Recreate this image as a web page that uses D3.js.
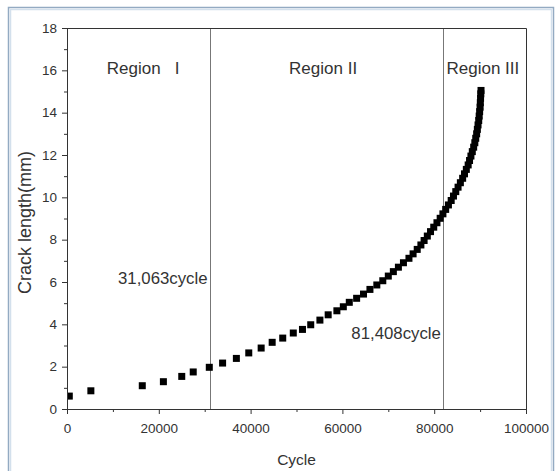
<!DOCTYPE html>
<html>
<head>
<meta charset="utf-8">
<script src="https://cdn.jsdelivr.net/npm/d3@7"></script>
<style>
  body { margin: 0; background: #fff; }
  svg { display: block; font-family: "Liberation Sans", Arial, sans-serif; }
</style>
</head>
<body>
<svg id="chart" width="559" height="471"></svg>
<script>
// crack length measurements (cycle, mm)
var cycles = [
    500, 5200, 16400, 21000, 25000, 27500, 31000, 33900, 36900, 39600,
    42300, 44700, 47000, 49300, 51300, 53100, 55100, 56900, 58800, 60200,
    61500, 63100, 64600, 66000, 67500, 68800, 70000, 71100, 72200, 73300,
    74500, 75400, 76300, 77100, 77800, 78500, 79200, 79900, 80600, 81300,
    81900, 82500, 83100, 83700, 84200, 84700, 85200, 85700, 86200, 86600,
    87000, 87400, 87700, 88000, 88300, 88600, 88850, 89050, 89250, 89400,
    89550, 89700, 89800, 89900, 90000, 90050, 90100, 90150, 90200
];
var crackLength = [
    0.61, 0.86, 1.10, 1.29, 1.54, 1.75, 1.97, 2.17, 2.39, 2.65,
    2.88, 3.15, 3.35, 3.59, 3.76, 3.98, 4.20, 4.45, 4.64, 4.83,
    5.04, 5.23, 5.43, 5.65, 5.86, 6.06, 6.28, 6.49, 6.70, 6.91,
    7.12, 7.33, 7.54, 7.75, 7.96, 8.17, 8.38, 8.59, 8.80, 9.01,
    9.22, 9.43, 9.64, 9.85, 10.06, 10.27, 10.48, 10.69, 10.90, 11.11,
    11.32, 11.53, 11.74, 11.95, 12.16, 12.37, 12.58, 12.79, 13.00, 13.21,
    13.42, 13.63, 13.84, 14.05, 14.26, 14.47, 14.68, 14.89, 15.05
];

var xTicks = [0, 20000, 40000, 60000, 80000, 100000];
var xMinorTicks = [10000, 30000, 50000, 70000, 90000];
var yTicks = [0, 2, 4, 6, 8, 10, 12, 14, 16, 18];
var yMinorTicks = [1, 3, 5, 7, 9, 11, 13, 15, 17];

// region boundaries (line position) and their labels
var boundaries = [31063, 81900];
var boundaryLabels = ['31,063cycle', '81,408cycle'];
var boundaryLabelY = [5.9, 3.3];

var regionNames = ['Region   I', 'Region II', 'Region III'];
var regionCenters = [16600, 55800, 90600];

var data = cycles.map((c, i) => ({ x: c, y: crackLength[i] }));

var svg = d3.select('#chart');
var margin = { top: 28, right: 33, bottom: 62, left: 67 }
    , width = 559 - margin.left - margin.right
    , height = 471 - margin.top - margin.bottom;

// outer frame
svg.append('rect')
    .attr('x', 8.5).attr('y', 7.5)
    .attr('width', 545).attr('height', 480)
    .attr('fill', '#fff')
    .attr('stroke', '#93aac2')
    .attr('stroke-width', 1.5);
svg.append('rect')
    .attr('x', 10.5).attr('y', 9.5)
    .attr('width', 541).attr('height', 476)
    .attr('fill', 'none')
    .attr('stroke', '#d3e0ec')
    .attr('stroke-width', 1.5);

var xScale = d3.scaleLinear().domain([0, 100000]).range([0, width]);
var yScale = d3.scaleLinear().domain([0, 18]).range([height, 0]);

var g = svg.append('g')
    .attr('transform', `translate(${margin.left},${margin.top})`);

svg.append('defs').append('clipPath').attr('id', 'plotclip')
    .append('rect').attr('width', width).attr('height', height);

// region boundary lines
g.selectAll('.boundary')
    .data(boundaries)
    .enter().append('line')
    .attr('x1', d => Math.round(xScale(d)) + 0.5)
    .attr('x2', d => Math.round(xScale(d)) + 0.5)
    .attr('y1', 0).attr('y2', height)
    .attr('stroke', '#777')
    .attr('stroke-width', 1);

// data markers
g.append('g')
    .attr('clip-path', 'url(#plotclip)')
    .selectAll('rect')
    .data(data)
    .enter().append('rect')
    .attr('x', d => xScale(d.x) - 3.5)
    .attr('y', d => yScale(d.y) - 3.5)
    .attr('width', 7)
    .attr('height', 7)
    .attr('fill', '#000');

// axes
var xAxis = g.append('g')
    .attr('transform', `translate(0,${height})`)
    .call(d3.axisBottom(xScale).tickValues(xTicks).tickSize(5).tickSizeOuter(0).tickFormat(d3.format('d')));
g.append('g')
    .attr('transform', `translate(0,${height})`)
    .call(d3.axisBottom(xScale).tickValues(xMinorTicks).tickSize(3).tickSizeOuter(0).tickFormat(''))
    .select('.domain').remove();
var yAxis = g.append('g')
    .call(d3.axisLeft(yScale).tickValues(yTicks).tickSize(5).tickSizeOuter(0));
g.append('g')
    .call(d3.axisLeft(yScale).tickValues(yMinorTicks).tickSize(3).tickSizeOuter(0).tickFormat(''))
    .select('.domain').remove();

g.selectAll('.domain, .tick line').attr('stroke', '#333');
g.selectAll('.tick text')
    .attr('fill', '#333')
    .style('font-size', '13.5px')
    .style('font-family', '"Liberation Sans", Arial, sans-serif');
xAxis.selectAll('.tick text').attr('dy', '1.15em');
yAxis.selectAll('.tick text').attr('x', -10);

// top and right frame of the plot
g.append('path')
    .attr('d', `M0,0.5H${width + 0.5}V${height}`)
    .attr('fill', 'none')
    .attr('stroke', '#333');

// region titles
g.selectAll('.region')
    .data(regionNames)
    .enter().append('text')
    .attr('x', (d, i) => xScale(regionCenters[i]))
    .attr('y', yScale(15.85))
    .attr('text-anchor', 'middle')
    .attr('xml:space', 'preserve')
    .style('white-space', 'pre')
    .style('font-size', '17px')
    .attr('fill', '#333')
    .text(d => d);

// boundary annotations
g.selectAll('.blabel')
    .data(boundaryLabels)
    .enter().append('text')
    .attr('x', (d, i) => xScale(boundaries[i]) - 2)
    .attr('y', (d, i) => yScale(boundaryLabelY[i]))
    .attr('text-anchor', 'end')
    .style('font-size', '16.8px')
    .attr('fill', '#333')
    .text(d => d);

// axis titles
g.append('text')
    .attr('transform', `translate(${width / 2},${height + 56})`)
    .style('text-anchor', 'middle')
    .style('font-size', '15.5px')
    .attr('fill', '#333')
    .text('Cycle');
g.append('text')
    .attr('transform', 'rotate(-90)')
    .attr('x', 0 - (height / 2) - 4)
    .attr('y', 0 - 36)
    .style('text-anchor', 'middle')
    .style('font-size', '18px')
    .attr('fill', '#333')
    .text('Crack length(mm)');
</script>
</body>
</html>
